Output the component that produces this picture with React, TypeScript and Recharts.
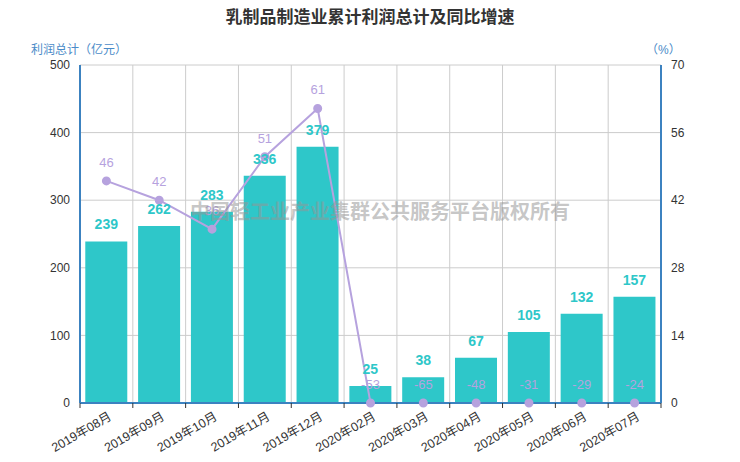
import { Bar, CartesianGrid, ComposedChart, LabelList, Line, XAxis, YAxis } from 'recharts';

const months = [
  '2019年08月', '2019年09月', '2019年10月', '2019年11月', '2019年12月',
  '2020年02月', '2020年03月', '2020年04月', '2020年05月', '2020年06月', '2020年07月',
];
const profit = [239, 262, 283, 336, 379, 25, 38, 67, 105, 132, 157];
const growth = [46, 42, 36, 51, 61, -53, -65, -48, -31, -29, -24];
const leftTicks = [0, 100, 200, 300, 400, 500];
const rightTicks = [0, 14, 28, 42, 56, 70];

// right axis starts at 0, so negative growth sits on the floor, label keeps the real value
const data = months.map((m, i) => ({
  month: m,
  profit: profit[i],
  growth: growth[i],
  growthPlot: Math.max(0, growth[i]),
}));

const FONT = '"Liberation Sans", "Noto Sans CJK SC", sans-serif';
const AXIS_BLUE = '#3c82c0';
const BAR = '#2ec7c9';
const LINE = '#b6a2de';

// vertical grid lines sit on the category edges, not the centres
const edgeLines = ({ offset }) =>
  months.map((_, i) => offset.left + (offset.width * i) / months.length).concat(offset.left + offset.width);

const MonthTick = props => {
  const { x, y, payload, index } = props;
  const half = payload.offset || 0;
  const ty = y + 8;
  return (
    <g>
      <line x1={x - half} x2={x - half} y1={y - 8} y2={y - 3} stroke="#333" />
      {index === months.length - 1 && <line x1={x + half} x2={x + half} y1={y - 8} y2={y - 3} stroke="#333" />}
      <text
        x={x + 6}
        y={ty}
        transform={`rotate(-30, ${x + 6}, ${ty})`}
        textAnchor="end"
        fill="#333"
        fontSize={12.5}
        fontFamily={FONT}
      >
        {payload.value}
      </text>
    </g>
  );
};

const BarLabel = props => {
  const { x, y, width, value } = props;
  return (
    <text x={x + width / 2} y={y - 12} textAnchor="middle" fill={BAR} fontSize={14} fontWeight="bold" fontFamily={FONT}>
      {value}
    </text>
  );
};

const LineLabel = props => {
  const { x, y, index } = props;
  return (
    <text x={x} y={y - 14} textAnchor="middle" fill={LINE} fontSize={13} fontFamily={FONT}>
      {growth[index]}
    </text>
  );
};

export default function App() {
  return (
    <div style={{ position: 'absolute', left: 0, top: 0, width: 740, height: 462, fontFamily: FONT }}>
      <ComposedChart width={740} height={462} data={data} margin={{ top: 65, right: 0, left: 0, bottom: 0 }}>
        <CartesianGrid stroke="#ccc" yAxisId="left" verticalCoordinatesGenerator={edgeLines} />
        <XAxis
          dataKey="month"
          interval={0}
          tick={<MonthTick />}
          tickLine={false}
          axisLine={{ stroke: AXIS_BLUE, strokeWidth: 2 }}
          height={59}
        />
        <YAxis
          yAxisId="left"
          domain={[0, 500]}
          ticks={leftTicks}
          width={80}
          tickLine={false}
          axisLine={{ stroke: AXIS_BLUE, strokeWidth: 2 }}
          tick={{ fill: '#333', fontSize: 12, fontFamily: FONT }}
          tickMargin={4}
        />
        <YAxis
          yAxisId="right"
          orientation="right"
          domain={[0, 70]}
          ticks={rightTicks}
          width={79}
          tickLine={false}
          axisLine={{ stroke: AXIS_BLUE, strokeWidth: 2 }}
          tick={{ fill: '#333', fontSize: 12, fontFamily: FONT }}
          tickMargin={4}
        />
        <Bar yAxisId="left" dataKey="profit" fill={BAR} barCategoryGap="9%" isAnimationActive={false}>
          <LabelList dataKey="profit" content={<BarLabel />} />
        </Bar>
        <Line
          yAxisId="right"
          dataKey="growthPlot"
          stroke={LINE}
          strokeWidth={2}
          dot={{ r: 3.5, fill: LINE, stroke: LINE }}
          isAnimationActive={false}
        >
          <LabelList dataKey="growthPlot" content={<LineLabel />} />
        </Line>
      </ComposedChart>
      <div
        style={{
          position: 'absolute', left: 0, top: 3, width: 740, textAlign: 'center',
          fontSize: 17, fontWeight: 'bold', color: '#333',
        }}
      >
        乳制品制造业累计利润总计及同比增速
      </div>
      <div style={{ position: 'absolute', left: 31, top: 40, fontSize: 12, color: '#4a8bc8' }}>利润总计（亿元）</div>
      <div style={{ position: 'absolute', left: 646, top: 40, fontSize: 12, color: '#4a8bc8' }}>（%）</div>
      <div
        style={{
          position: 'absolute', left: 0, top: 196, width: 760, textAlign: 'center',
          fontSize: 20, fontWeight: 'bold', color: 'rgba(150,150,150,0.55)', pointerEvents: 'none',
        }}
      >
        中国轻工业产业集群公共服务平台版权所有
      </div>
    </div>
  );
}
